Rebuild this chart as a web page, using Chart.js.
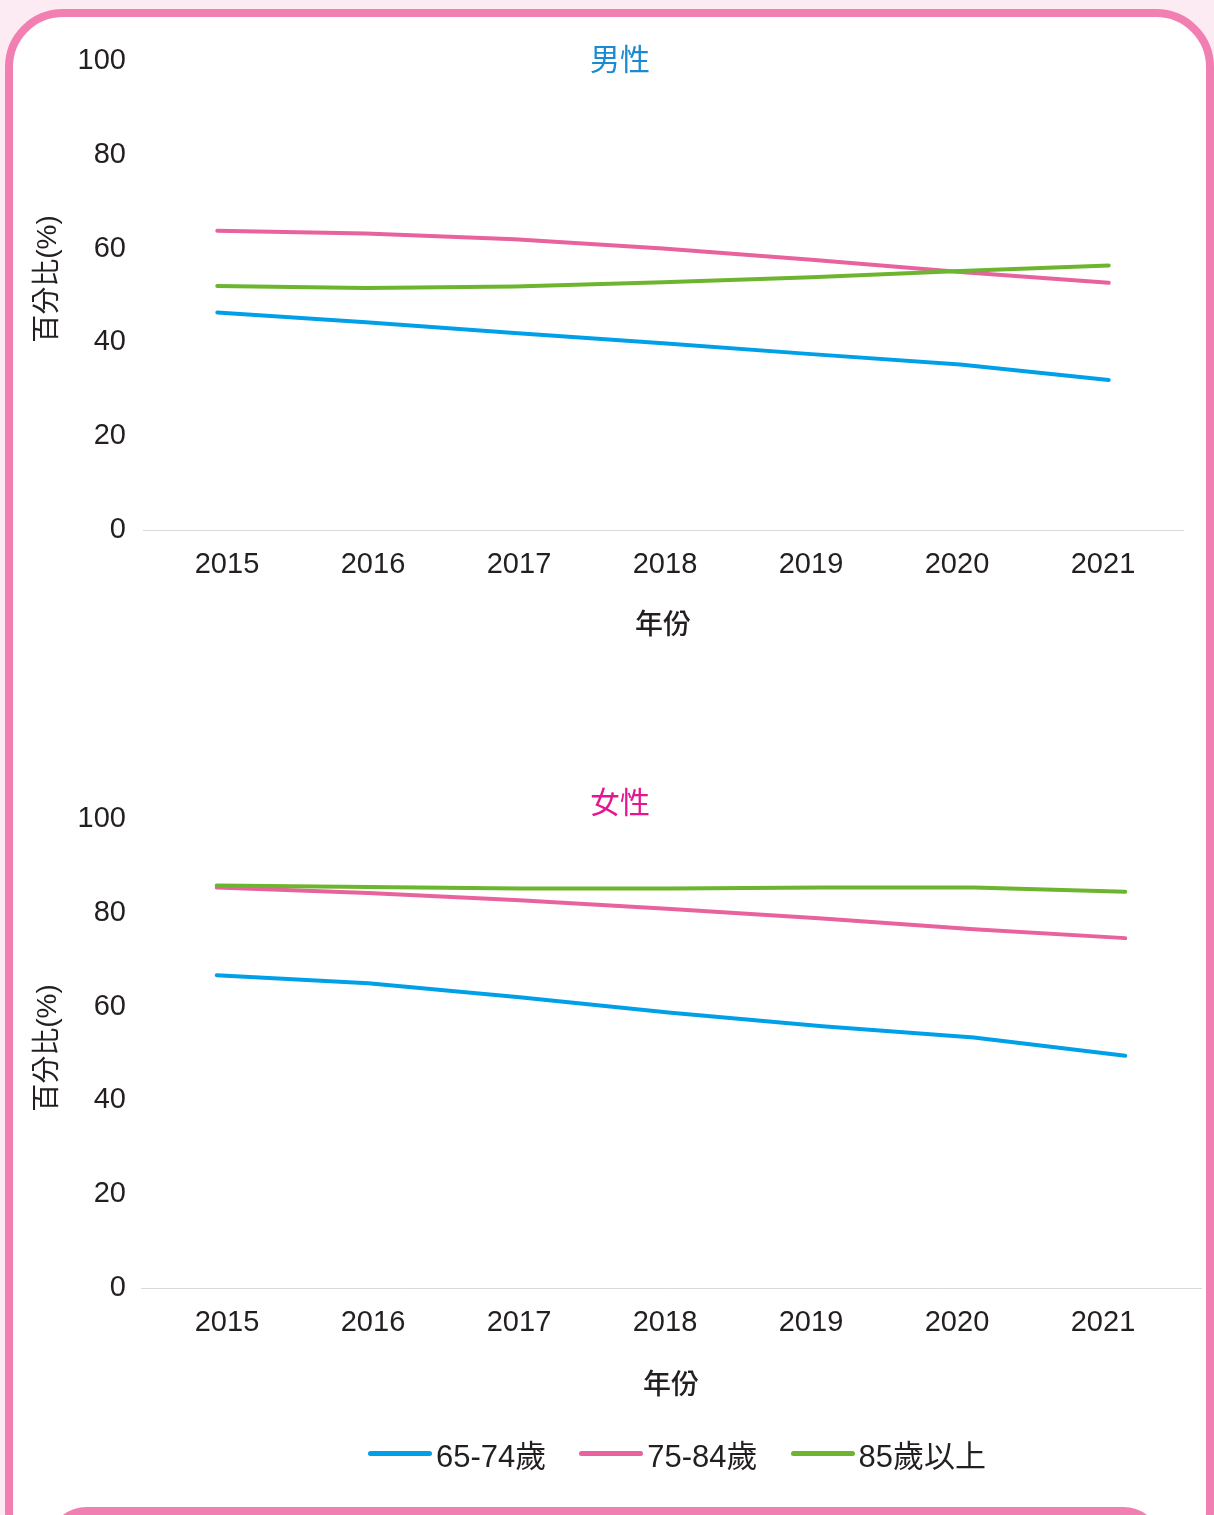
<!DOCTYPE html>
<html>
<head>
<meta charset="utf-8">
<script src="https://cdn.jsdelivr.net/npm/chart.js@4.4.1/dist/chart.umd.min.js"></script>
<style>
  html, body { margin: 0; padding: 0; }
  body { width: 1214px; height: 1515px; overflow: hidden; position: relative; background: #fcebf3; font-family: "Liberation Sans", "Noto Sans CJK TC", sans-serif; }
  #frame { position: absolute; left: 5px; top: 9px; width: 1209px; height: 1560px; box-sizing: border-box; border: 8px solid #f17fb2; border-radius: 58px; background: #ffffff; }
  #nextbox { position: absolute; left: 47px; top: 1507px; width: 1116px; height: 80px; box-sizing: border-box; border: 8px solid #f17fb2; border-radius: 60px; background: #ffffff; }
  canvas { position: absolute; left: 0; }
  #c1 { top: 0; }
  #c2 { top: 680px; }
  #legend { position: absolute; left: 368px; top: 1433px; height: 40px; display: flex; align-items: center; font-size: 31px; color: #231f20; }
  .item { display: flex; align-items: center; margin-right: 33px; }
  .swatch { width: 64px; height: 5px; border-radius: 3px; margin-right: 4px; }
</style>
</head>
<body>
<div id="frame"></div>
<div id="nextbox"></div>
<canvas id="c1" width="1214" height="680"></canvas>
<canvas id="c2" width="1214" height="835"></canvas>
<div id="legend"></div>
<script>
const years = ['2015', '2016', '2017', '2018', '2019', '2020', '2021'];
const yearTicks = [2015, 2016, 2017, 2018, 2019, 2020, 2021];
const seriesNames = ['65-74歲', '75-84歲', '85歲以上'];
const seriesColors = ['#00a0e9', '#e8629e', '#6cb52f'];
const yTicks = [0, 20, 40, 60, 80, 100];

const male6574 = [46.4, 44.3, 42.0, 39.8, 37.5, 35.3, 32.0];
const male7584 = [63.8, 63.2, 62.0, 60.0, 57.6, 55.0, 52.7];
const male85 = [52.0, 51.6, 51.9, 52.8, 53.9, 55.2, 56.4];

const female6574 = [66.7, 65.0, 62.0, 58.7, 55.8, 53.4, 49.5];
const female7584 = [85.4, 84.2, 82.7, 80.8, 78.8, 76.5, 74.6];
const female85 = [85.8, 85.5, 85.2, 85.2, 85.4, 85.4, 84.5];

const FONT = '"Liberation Sans", "Noto Sans CJK TC", sans-serif';
const TEXT = '#231f20';
const Y_TITLE = '百分比(%)';

function datasets(values) {
  const orders = [2, 1, 0];
  return values.map((v, i) => ({
    label: seriesNames[i],
    data: v,
    borderColor: seriesColors[i],
    backgroundColor: seriesColors[i],
    borderWidth: 4,
    pointRadius: 0,
    pointHoverRadius: 0,
    tension: 0,
    borderCapStyle: 'round',
    borderJoinStyle: 'round',
    order: orders[i],
    xAxisID: 'x'
  }));
}

function textPlugin(cfg) {
  return {
    id: 'panelTexts',
    afterDraw(chart) {
      const ctx = chart.ctx;
      ctx.save();
      ctx.font = '30px ' + FONT;
      ctx.fillStyle = cfg.titleColor;
      ctx.textAlign = 'center';
      ctx.textBaseline = 'middle';
      ctx.fillText(cfg.title, 620, cfg.titleY);
      ctx.translate(48, cfg.yTitleY);
      ctx.rotate(-Math.PI / 2);
      ctx.font = '28px ' + FONT;
      ctx.fillStyle = TEXT;
      ctx.fillText(Y_TITLE, 0, 0);
      ctx.restore();
    }
  };
}

function makeChart(id, values, cfg) {
  return new Chart(document.getElementById(id), {
    type: 'line',
    data: { labels: years, datasets: datasets(values) },
    options: {
      responsive: false,
      animation: false,
      events: [],
      layout: { padding: { top: cfg.top, right: cfg.right, bottom: cfg.bottom, left: 0 } },
      plugins: { legend: { display: false }, tooltip: { enabled: false } },
      scales: {
        x: { type: 'category', offset: true, display: false },
        xl: {
          type: 'linear',
          position: 'bottom',
          min: cfg.xmin,
          max: cfg.xmax,
          afterBuildTicks(axis) { axis.ticks = yearTicks.map(v => ({ value: v })); },
          afterFit(axis) { axis.height = 120; },
          grid: { display: false, drawTicks: false },
          border: { display: true, color: '#d9d9d9', width: 1 },
          ticks: {
            padding: 18,
            color: TEXT,
            font: { family: FONT, size: 29 },
            callback: (v) => String(v),
            maxRotation: 0,
            autoSkip: false
          },
          title: {
            display: true,
            text: '年份',
            color: TEXT,
            font: { family: FONT, size: 28, weight: '500', lineHeight: 1.2 },
            padding: { top: 0, bottom: cfg.xTitlePad }
          }
        },
        y: {
          min: 0,
          max: 100,
          afterBuildTicks(axis) { axis.ticks = yTicks.map(v => ({ value: v })); },
          afterFit(axis) { axis.width = cfg.left; },
          grid: { display: false, drawTicks: false },
          border: { display: false },
          ticks: {
            padding: cfg.yPad,
            color: TEXT,
            font: { family: FONT, size: 29 }
          },
          title: { display: false }
        }
      }
    },
    plugins: [textPlugin(cfg)]
  });
}

makeChart('c1', [male6574, male7584, male85], {
  top: 61, right: 31, bottom: 30, left: 143,
  xmin: 2015 - 84 / 146, xmax: 2021 + 80 / 146,
  xTitlePad: 7, yPad: 17,
  title: '男性', titleColor: '#1b8ad0', titleY: 62, yTitleY: 279
});

makeChart('c2', [female6574, female7584, female85], {
  top: 139, right: 13, bottom: 107, left: 141,
  xmin: 2015 - 86 / 146, xmax: 2021 + 98 / 146,
  xTitlePad: 5, yPad: 15,
  title: '女性', titleColor: '#e5168f', titleY: 125, yTitleY: 368
});

const legend = document.getElementById('legend');
seriesNames.forEach((name, i) => {
  const item = document.createElement('div');
  item.className = 'item';
  const sw = document.createElement('div');
  sw.className = 'swatch';
  sw.style.background = seriesColors[i];
  const tx = document.createElement('span');
  tx.textContent = name;
  item.appendChild(sw);
  item.appendChild(tx);
  legend.appendChild(item);
});
</script>
</body>
</html>
